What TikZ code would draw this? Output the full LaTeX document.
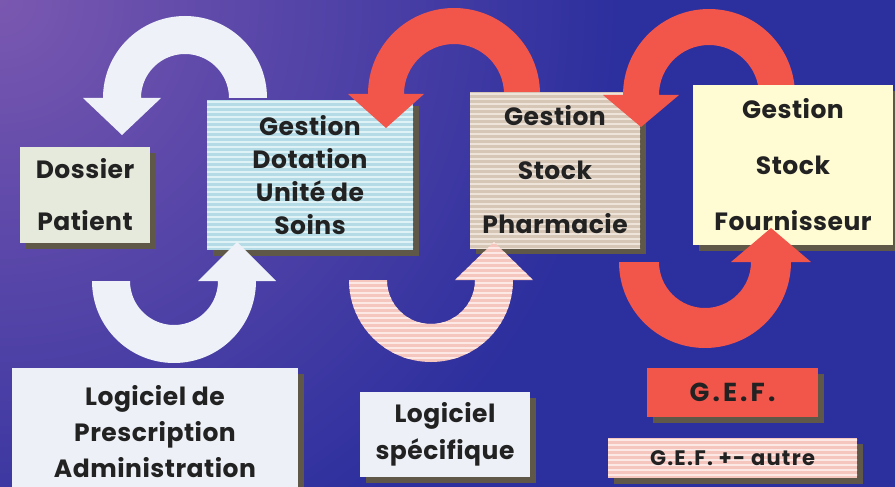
\documentclass[tikz,border=0pt]{standalone}
\usepackage{fontspec}
\setmainfont{Poppins}
\usetikzlibrary{shadows}
\definecolor{bgblue}{HTML}{2C2F9E}
\definecolor{bgpurple}{HTML}{7A58B0}
\definecolor{shadowc}{HTML}{5F5848}
\definecolor{dossierc}{HTML}{E6EADC}
\definecolor{dotA}{HTML}{B5DCE6}
\definecolor{dotB}{HTML}{DFF2F6}
\definecolor{pharmA}{HTML}{D6C6B6}
\definecolor{pharmB}{HTML}{EEE4DA}
\definecolor{fournc}{HTML}{FFFBD2}
\definecolor{logc}{HTML}{EDF1F7}
\definecolor{redc}{HTML}{F2554A}
\definecolor{pinkA}{HTML}{F4C6BE}
\definecolor{pinkB}{HTML}{FCE8E4}
\definecolor{whitearr}{HTML}{EEF2F8}
\definecolor{textc}{HTML}{222222}
% top U-arrow, head on the left pointing down: cx cy R r tipy overhang
\newcommand\toparrowpath[6]{(#1+#4,#2) -- (#1+#3,#2) arc[start angle=0,end angle=-180,radius=#3] -- (#1-#3-#6,#2) -- ({#1-(#3+#4)/2},#5) -- (#1-#4+#6,#2) -- (#1-#4,#2) arc[start angle=-180,end angle=0,radius=#4] -- cycle}
% bottom U-arrow, head on the right pointing up
\newcommand\botarrowpath[6]{(#1-#4,#2) -- (#1-#3,#2) arc[start angle=180,end angle=0,radius=#3] -- (#1+#3+#6,#2) -- ({#1+(#3+#4)/2},#5) -- (#1+#4-#6,#2) -- (#1+#4,#2) arc[start angle=0,end angle=180,radius=#4] -- cycle}
\tikzset{
  box/.style={rectangle, inner sep=0pt, text=textc, align=center,
    drop shadow={shadow xshift=6pt, shadow yshift=-6pt, fill=shadowc, opacity=1}},
  striped/.style 2 args={fill=#1, path picture={
    \foreach \k in {0,...,40}{\draw[#2, line width=2pt]
      ([yshift=-\k*5pt-2pt]path picture bounding box.north west) -- ++(1000,0);}}},
  bigtext/.style={font=\fontsize{25}{#1}\selectfont\bfseries\addfontfeatures{LetterSpace=2}}
}
\begin{document}
\begin{tikzpicture}[x=1pt,y=-1pt]
\useasboundingbox (0,0) rectangle (895,487);
\clip (0,0) rectangle (895,487);
% background
\fill[bgblue] (0,0) rectangle (895,487);
\shade[inner color=bgpurple, outer color=bgblue] (0,0) circle[radius=620];
% white top arrow
\fill[whitearr] \toparrowpath{185}{98}{82}{44}{135}{20};
% boxes (first row)
\node[box, fill=dossierc, minimum width=130, minimum height=96, bigtext=52] (dossier) at (85,195) {Dossier\\Patient};
\node[box, striped={dotA}{dotB}, minimum width=206, minimum height=150, bigtext=33] (dotation) at (310,175) {Gestion\\Dotation\\Unité de\\Soins};
% red arrow (dotation <- pharmacie)
\fill[redc] \toparrowpath{454}{94}{86}{50}{128}{20};
\node[box, striped={pharmA}{pharmB}, minimum width=170, minimum height=156, bigtext=54] (pharma) at (555,170) {Gestion\\Stock\\Pharmacie};
% red arrow (pharmacie <- fournisseur)
\fill[redc] \toparrowpath{709}{95}{86}{50}{127}{20};
\node[box, fill=fournc, minimum width=200, minimum height=160, bigtext=56] (fourn) at (793,165) {Gestion\\Stock\\Fournisseur};
% legend boxes
\node[box, fill=logc, minimum width=286, minimum height=128, bigtext=36] (presc) at (155,432) {Logiciel de\\Prescription\\Administration};
\node[box, fill=logc, minimum width=170, minimum height=85, bigtext=37] (specif) at (445,434.5) {Logiciel\\spécifique};
\node[box, fill=redc, minimum width=171, minimum height=49, font=\fontsize{26}{30}\selectfont\bfseries\addfontfeatures{LetterSpace=12}] (gef) at (732.5,392.5) {G.E.F.};
\node[box, striped={pinkA}{pinkB}, minimum width=249, minimum height=40, font=\fontsize{21}{24}\selectfont\bfseries\addfontfeatures{LetterSpace=6}] (gefautre) at (732.5,458) {G.E.F. +- autre};
% bottom arrows
\fill[whitearr] \botarrowpath{174}{281}{82}{44}{242}{20};
\begin{scope}
  \clip \botarrowpath{431}{280}{82}{44}{242}{20};
  \fill[pinkA] (320,230) rectangle (540,370);
  \foreach \k in {0,...,28}{\draw[pinkB, line width=2pt] (320,{233+\k*5}) -- (540,{233+\k*5});}
\end{scope}
\fill[redc] \botarrowpath{705}{262}{86}{46}{228}{20};
\end{tikzpicture}
\end{document}
